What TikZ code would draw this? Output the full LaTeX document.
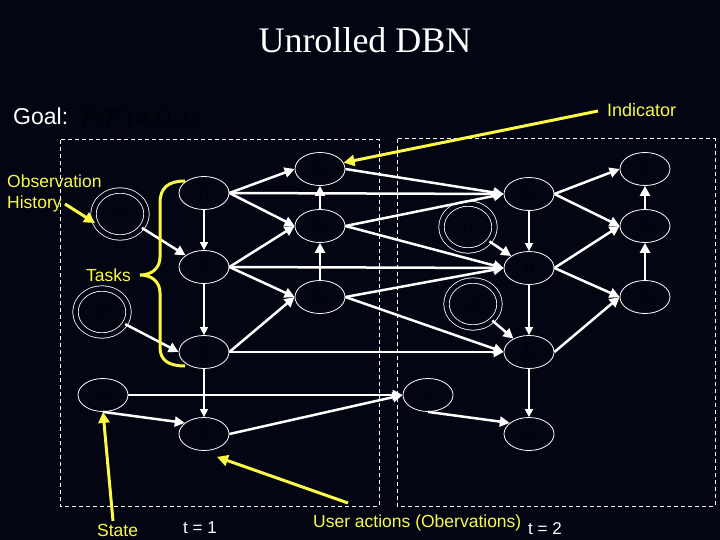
\documentclass[tikz,border=0pt]{standalone}
\usepackage{fontspec}
\setmainfont{Liberation Serif}
\newfontfamily\lsans{Liberation Sans}
\usetikzlibrary{shapes.geometric,arrows.meta,calc}
\definecolor{bgc}{RGB}{3,5,18}
\definecolor{yel}{RGB}{250,250,70}
\definecolor{lbl}{RGB}{0,0,0}
\begin{document}
\begin{tikzpicture}[x=1pt,y=-1pt,
  nd/.style={ellipse,draw=white,line width=0.8pt,minimum width=50pt,minimum height=33pt,inner sep=0pt,text=lbl,font=\itshape\fontsize{12}{12}\selectfont},
  ob/.style={ellipse,draw=white,line width=0.8pt,double=bgc,double distance=4.6pt,minimum width=53pt,minimum height=47pt,inner sep=0pt,text=lbl,font=\itshape\fontsize{13}{13}\selectfont},
  ar/.style={white,line width=2.5pt,-{Triangle[length=10pt,width=10pt]}},
  arthin/.style={white,line width=1.5pt,-{Triangle[length=8pt,width=8pt]}},
  ya/.style={yel,line width=3pt,-{Triangle[length=11pt,width=11pt]}},
  box/.style={white,line width=1pt,dash pattern=on 4pt off 3pt},
  ytext/.style={yel,font=\lsans\fontsize{17.5}{17.5}\selectfont,inner sep=0pt,anchor=base west},
  wtext/.style={white,font=\lsans\fontsize{17}{17}\selectfont,inner sep=0pt,anchor=base west}]
\useasboundingbox (0,0) rectangle (720,540);
\fill[bgc] (0,0) rectangle (720,540);

% frames
\draw[box] (60,140) rectangle (379,506);
\draw[box] (397,139) rectangle (715,506);

% texts
\node[white,font=\fontsize{36}{36}\selectfont,inner sep=0pt,anchor=base] (title) at (365,53) {Unrolled DBN};
\node[white,font=\lsans\fontsize{23}{23}\selectfont,inner sep=0pt,anchor=base west] (goal) at (13,125) {Goal:};
\node[lbl,font=\fontsize{22}{22}\selectfont,inner sep=0pt,anchor=base west] (formula) at (80,125) {$P(T^{t}\,|\,o,O,s)$};
\node[yel,font=\lsans\fontsize{18}{18}\selectfont,inner sep=0pt,anchor=base west] (ind) at (607,117) {Indicator};
\node[ytext] (obs1) at (7,188) {Observation};
\node[ytext] (obs2) at (7,209) {History};
\node[ytext] (tasks) at (86,281) {Tasks};
\node[ytext] (state) at (97,536) {State};
\node[ytext] (ua) at (313,527) {User actions (Obervations)};
\node[wtext] (t1) at (183,533) {t = 1};
\node[wtext] (t2) at (528,534) {t = 2};

% nodes t=1
\node[nd] (T11) at (204,193) {$T_1$};
\node[nd] (I1) at (320,169) {$I_1$};
\node[nd] (F1) at (320,226) {$F_1$};
\node[nd] (T21) at (204,267) {$T_2$};
\node[nd] (E1) at (320,297) {$E_1$};
\node[nd] (T31) at (204,352) {$T_3$};
\node[nd] (S1) at (103,395) {$s_1$};
\node[nd] (A1) at (204,434) {$o_1$};
\node[ob] (O1) at (120,214) {$O$};
\node[ob] (O2) at (102,312) {$O$};
% nodes t=2
\node[nd] (T12) at (529,194) {$T_1$};
\node[nd] (I2) at (645,169) {$I_2$};
\node[nd] (F2) at (645,226) {$F_2$};
\node[nd] (T22) at (529,268) {$T_2$};
\node[nd] (E2) at (645,297) {$E_2$};
\node[nd] (T32) at (529,352) {$T_3$};
\node[nd] (S2) at (428,395) {$s_2$};
\node[nd] (A2) at (529,434) {$o_2$};
\node[ob] (O3) at (468,227) {$O$};
\node[ob] (O4) at (473,304) {$O$};

% edges t=1
\draw[ar] (T11.east) -- (I1.west);
\draw[ar] (T11.east) -- (F1.west);
\draw[ar] (T11.east) -- (T12.west);
\draw[arthin] (T11.south) -- (T21.north);
\draw[ar] (I1.east) -- (T12.west);
\draw[ar] (F1.east) -- (T12.west);
\draw[ar] (F1.east) -- (T22.west);
\draw[ar] (F1.north) -- (I1.south);
\draw[ar] (E1.north) -- (F1.south);
\draw[ar] (T21.east) -- (F1.west);
\draw[ar] (T21.east) -- (E1.west);
\draw[ar] (T21.east) -- (T22.west);
\draw[arthin] (T21.south) -- (T31.north);
\draw[ar] (E1.east) -- (T22.west);
\draw[ar] (E1.east) -- (T32.west);
\draw[ar] (T31.east) -- (E1.west);
\draw[ar] (T31.east) -- (T32.west);
\draw[arthin] (T31.south) -- (A1.north);
\draw[ar] (O1) -- (T21);
\draw[ar] (O2) -- (T31.west);
\draw[ar] (S1.east) -- (S2.west);
\draw[ar] (S1.south) -- (A1.150);
\draw[ar] (A1.east) -- (S2.west);
% edges t=2
\draw[ar] (T12.east) -- (I2.west);
\draw[ar] (T12.east) -- (F2.west);
\draw[arthin] (T12.south) -- (T22.north);
\draw[ar] (F2.north) -- (I2.south);
\draw[ar] (E2.north) -- (F2.south);
\draw[ar] (T22.east) -- (F2.west);
\draw[ar] (T22.east) -- (E2.west);
\draw[arthin] (T22.south) -- (T32.north);
\draw[ar] (T32.east) -- (E2.west);
\draw[arthin] (T32.south) -- (A2.north);
\draw[ar] (O3) -- (T22);
\draw[ar] (O4) -- (T32);
\draw[ar] (S2.south) -- (A2.150);

% yellow annotations
\coordinate (indc) at (598,111);
\draw[ya] (indc) -- (I1.15);
\coordinate (ohc) at (65,204);
\draw[ya] (ohc) -- (O1.200);
\coordinate (stc) at (113,521);
\draw[ya] (stc) -- (S1.south);
\coordinate (uac) at (348,503);
\draw[ya] (uac) -- ($(A1.south)+(13,6)$);
\draw[yel,line width=3pt]
  (185,181) .. controls (168,181) and (160,188) .. (160,203)
  -- (160,257) .. controls (160,268) and (152,275) .. (140,275)
  .. controls (152,275) and (160,282) .. (160,293)
  -- (160,347) .. controls (160,360) and (168,366) .. (185,366);
\end{tikzpicture}
\end{document}
